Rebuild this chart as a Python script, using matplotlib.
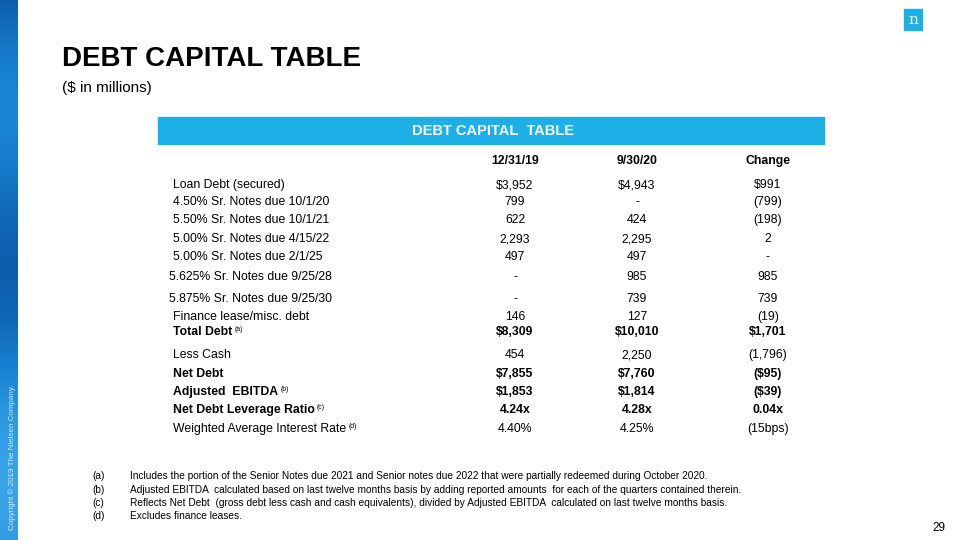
import numpy as np
import matplotlib
matplotlib.use('Agg')
import matplotlib.pyplot as plt
from matplotlib.patches import Rectangle

plt.rcParams['font.family'] = ['Liberation Sans', 'DejaVu Sans']

# table content
col_headers = ['12/31/19', '9/30/20', 'Change']
row_labels = ['Loan Debt (secured)', '4.50% Sr. Notes due 10/1/20', '5.50% Sr. Notes due 10/1/21',
              '5.00% Sr. Notes due 4/15/22', '5.00% Sr. Notes due 2/1/25', '5.625% Sr. Notes due 9/25/28',
              '5.875% Sr. Notes due 9/25/30', 'Finance lease/misc. debt', 'Total Debt',
              'Less Cash', 'Net Debt', 'Adjusted  EBITDA', 'Net Debt Leverage Ratio',
              'Weighted Average Interest Rate']
row_notes = ['', '', '', '', '', '', '', '', '(a)', '', '', '(b)', '(c)', '(d)']
bold_rows = ['Total Debt', 'Net Debt', 'Adjusted  EBITDA', 'Net Debt Leverage Ratio']
vals_1231 = ['$3,952', '799', '622', '2,293', '497', '-', '-', '146', '$8,309', '454',
             '$7,855', '$1,853', '4.24x', '4.40%']
vals_0930 = ['$4,943', '-', '424', '2,295', '497', '985', '739', '127', '$10,010', '2,250',
             '$7,760', '$1,814', '4.28x', '4.25%']
vals_change = ['$991', '(799)', '(198)', '2', '-', '985', '739', '(19)', '$1,701', '(1,796)',
               '($95)', '($39)', '0.04x', '(15bps)']

footnotes = [
    ('(a)', 'Includes the portion of the Senior Notes due 2021 and Senior notes due 2022 that were partially redeemed during October 2020.'),
    ('(b)', 'Adjusted EBITDA  calculated based on last twelve months basis by adding reported amounts  for each of the quarters contained therein.'),
    ('(c)', 'Reflects Net Debt  (gross debt less cash and cash equivalents), divided by Adjusted EBITDA  calculated on last twelve months basis.'),
    ('(d)', 'Excludes finance leases.'),
]

# layout (pixel coords, baselines)
row_y = [188, 205, 223, 242, 260, 280, 302, 320, 335, 358, 377, 395, 413, 432]
label_x = [173, 173, 173, 173, 173, 169, 169, 173, 173, 173, 173, 173, 173, 173]
col_x = [515, 637, 768]

fig = plt.figure(figsize=(9.6, 5.4), dpi=100)
ax = fig.add_axes([0, 0, 1, 1])
ax.set_xlim(0, 960)
ax.set_ylim(540, 0)
ax.axis('off')

# left decorative strip
grad = np.linspace(0, 1, 200)[:, None] * np.ones((1, 10))
waves = 0.15 * np.sin(np.linspace(0, 9, 200))[:, None]
strip = np.clip(grad * 0.3 + waves + 0.5, 0, 1)
ax.imshow(strip, extent=(0, 18, 540, 0), cmap=matplotlib.colors.LinearSegmentedColormap.from_list(
    'b', ['#0d5fae', '#1a86d6', '#3aa3e8']), aspect='auto', zorder=0)
ax.text(12, 530, 'Copyright \u00a9 2019 The Nielsen Company.',
        rotation=90, fontsize=5.8, color='#dbe9f7', ha='center', va='bottom')

# logo
ax.add_patch(Rectangle((904, 9), 18, 21, color='#1cb0e6', zorder=2))
ax.text(913, 20, 'n', family='DejaVu Serif', fontsize=11, color='white', ha='center', va='center', zorder=3)

# titles
ax.text(62, 59, 'DEBT CAPITAL TABLE', fontsize=20, fontweight='bold', color='black', va='center')
ax.text(62, 88, '($ in millions)', fontsize=11, color='black', va='center')

# table header bar
ax.add_patch(Rectangle((158, 117), 666, 27, color='#1cb0e6', zorder=1))
ax.text(493, 135, 'DEBT CAPITAL  TABLE', fontsize=10.5, fontweight='bold', color='white',
        ha='center', va='baseline', zorder=2)

for x, h in zip(col_x, col_headers):
    ax.text(x, 164, h, fontsize=8.8, fontweight='bold', ha='center', va='baseline')

for i, lab in enumerate(row_labels):
    w = 'bold' if lab in bold_rows else 'normal'
    t = ax.text(label_x[i], row_y[i], lab, fontsize=8.8, fontweight=w, ha='left', va='baseline')
    if row_notes[i]:
        ax.annotate(row_notes[i], xy=(1, 1), xycoords=t, xytext=(1.5, 0), textcoords='offset points',
                    fontsize=5, ha='left', va='top')
    for x, v in zip(col_x, [vals_1231[i], vals_0930[i], vals_change[i]]):
        ax.text(x, row_y[i], v, fontsize=8.8, fontweight=w, ha='center', va='baseline')

# footnotes
for j, (tag, txt) in enumerate(footnotes):
    y = [479, 493, 506, 519][j]
    ax.text(92, y, tag, fontsize=7.3, ha='left', va='baseline')
    ax.text(130, y, txt, fontsize=7.3, ha='left', va='baseline')

ax.text(945, 531, '29', fontsize=8.5, ha='right', va='baseline')

fig.savefig('out.png', dpi=100)
